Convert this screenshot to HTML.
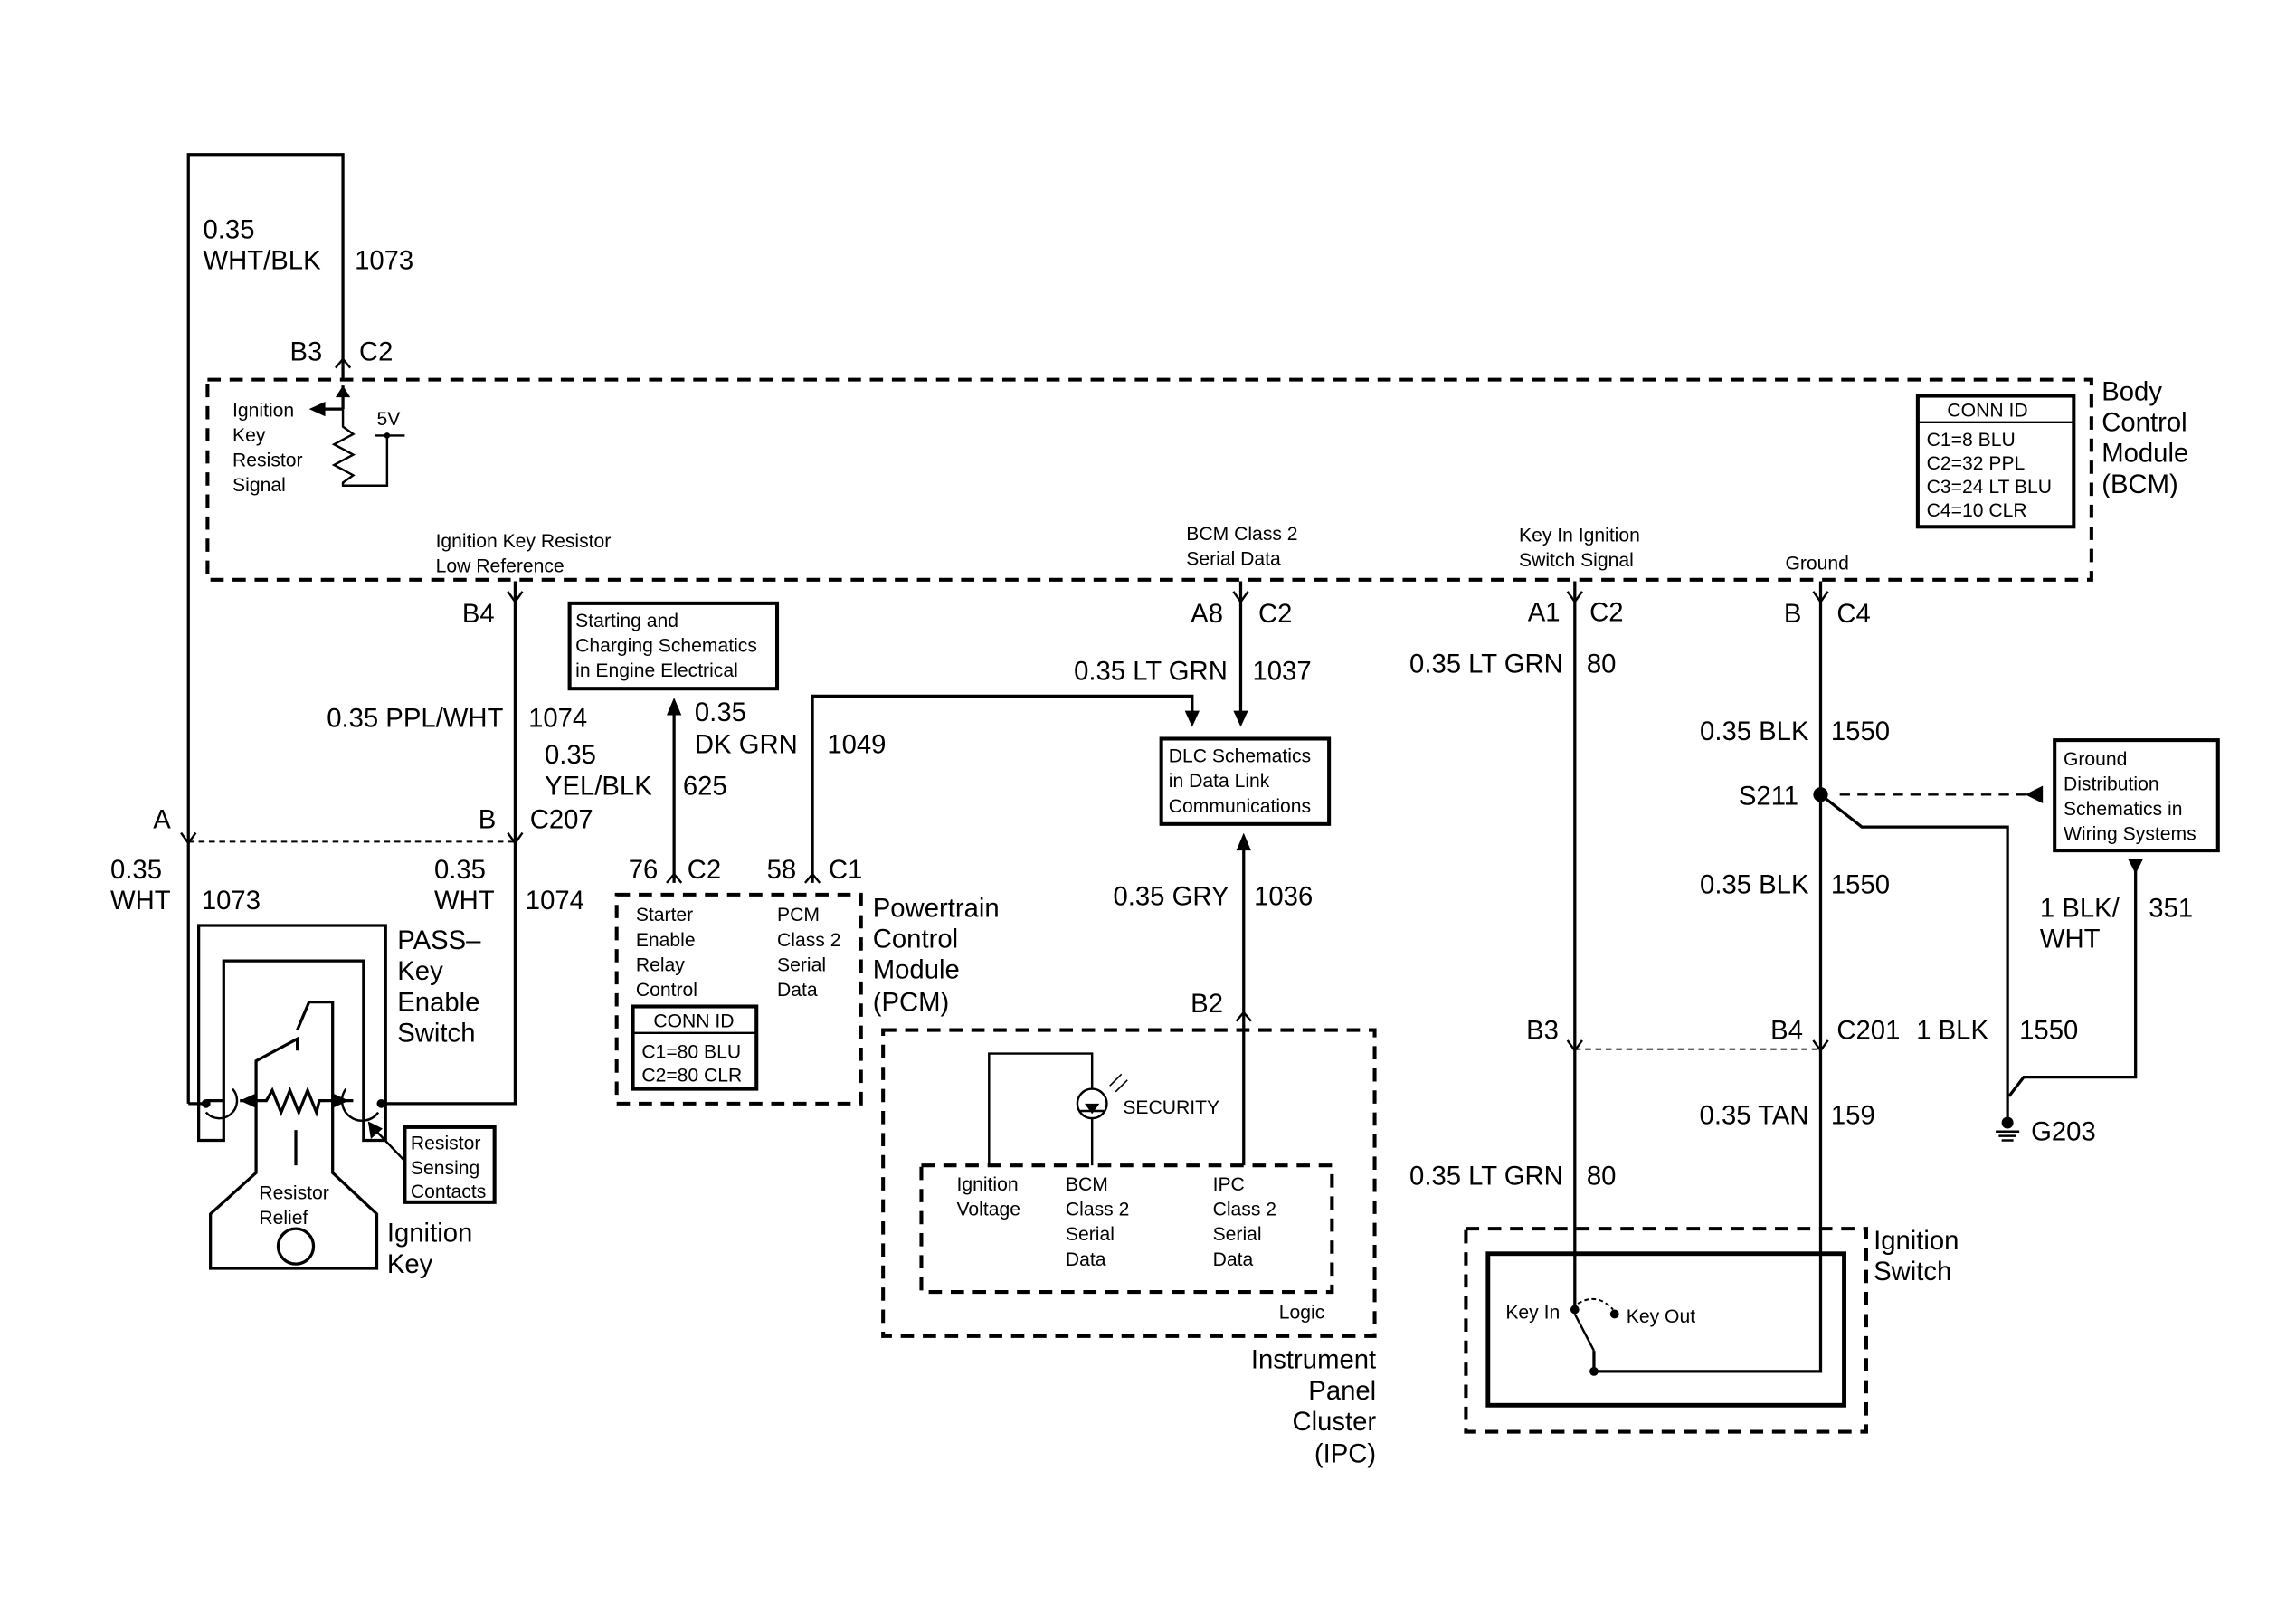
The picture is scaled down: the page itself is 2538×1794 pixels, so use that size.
<!DOCTYPE html>
<html><head><meta charset="utf-8"><style>
html,body{margin:0;padding:0;background:#fff;}
svg{display:block;}
text{font-family:"Liberation Sans",Arial,sans-serif;fill:#000;}
.L{font-size:18px;}
.S{font-size:13px;}
</style></head><body>
<svg width="2538" height="1794" viewBox="0 0 1560 1103" preserveAspectRatio="none" xmlns="http://www.w3.org/2000/svg">
<rect width="1560" height="1103" fill="#fff"/>
<g fill="none" stroke="#000" stroke-width="2">
<rect x="141" y="258" width="1280" height="136" stroke-dasharray="9,6" stroke-width="2.5"/>
<polyline points="128,750 128,105 233,105 233,258"/>
<line x1="233" y1="262" x2="233" y2="278"/>
<line x1="233" y1="278" x2="220" y2="278"/>
<polyline points="233,278 233,290 240,295 227,302 240,309 227,316 240,323 233,328 233,330 263,330 263,296" stroke-width="1.5"/>
<line x1="255" y1="296" x2="275" y2="296" stroke-width="1.5"/>
<polyline points="350,395 350,750 259,750"/>
<line x1="128" y1="750" x2="140" y2="750"/>
<line x1="128" y1="572" x2="350" y2="572" stroke-dasharray="4,3" stroke-width="1.2"/>
<rect x="387" y="410" width="141" height="58" stroke-width="2.5"/>
<line x1="458" y1="485" x2="458" y2="600"/>
<polyline points="552,600 552,473 810,473 810,485"/>
<line x1="843" y1="395" x2="843" y2="485"/>
<rect x="789" y="502" width="114" height="58" stroke-width="2.5"/>
<line x1="845" y1="577" x2="845" y2="792"/>
<rect x="419" y="608" width="166" height="142" stroke-dasharray="9,6" stroke-width="2.5"/>
<rect x="430" y="684" width="84" height="56" stroke-width="2.5"/>
<line x1="430" y1="702" x2="514" y2="702" stroke-width="1.5"/>
<rect x="600" y="700" width="334" height="208" stroke-dasharray="9,6" stroke-width="2.5"/>
<rect x="626" y="792" width="279" height="86" stroke-dasharray="9,6" stroke-width="2.5"/>
<polyline points="672,792 672,716 742,716 742,740" stroke-width="1.5"/>
<line x1="742" y1="760" x2="742" y2="792" stroke-width="1.5"/>
<circle cx="742" cy="750" r="10" stroke-width="1.5"/>
<line x1="734" y1="755" x2="750" y2="755" stroke-width="1.5"/>
<line x1="754" y1="738" x2="762" y2="730" stroke-width="1"/>
<line x1="758" y1="742" x2="766" y2="734" stroke-width="1"/>
<line x1="1070" y1="395" x2="1070" y2="888"/>
<polyline points="1237,395 1237,932 1083,932 1083,918"/>
<line x1="1070" y1="713" x2="1237" y2="713" stroke-dasharray="4,3" stroke-width="1.2"/>
<polyline points="1237,540 1265,562 1364,562 1364,760"/>
<line x1="1250" y1="540" x2="1378" y2="540" stroke-dasharray="7,5" stroke-width="1.5"/>
<rect x="1396" y="503" width="111" height="75" stroke-width="2.5"/>
<polyline points="1451,590 1451,732 1375,732 1365,745"/>
<rect x="996" y="835" width="272" height="138" stroke-dasharray="9,6" stroke-width="2.5"/>
<rect x="1011" y="852" width="242" height="103" stroke-width="3"/>
<line x1="1083" y1="918" x2="1070" y2="893" stroke-width="1.5"/>
<path d="M1072,886 Q1085,878 1096,890" stroke-dasharray="3,2" stroke-width="1.2"/>
<rect x="1303" y="269" width="106" height="89" stroke-width="2.5"/>
<line x1="1303" y1="287" x2="1409" y2="287" stroke-width="1.5"/>
<path d="M152,775 H135 V629 H262 V775 H247 V653 H152 Z"/>
<polyline points="140,748 152,748"/>
<polyline points="163,748 181,748 185,741 191,756 197,741 203,756 209,741 215,756 217,748 240,748"/>
<polyline points="174,748 174,721 202,706 202,714"/>
<polyline points="202,700 210,681 226,681 226,797 256,825 256,862 143,862 143,825 174,797 174,748"/>
<circle cx="201" cy="847" r="12"/>
<line x1="201" y1="792" x2="201" y2="768"/>
<path d="M158,740 A12,12 0 1 1 140,756" stroke-width="1.5"/>
<path d="M235,740 A12,12 0 1 0 257,756" stroke-width="1.5"/>
<rect x="275" y="766" width="61" height="51" stroke-width="2.5"/>
<line x1="275" y1="789" x2="255" y2="768" stroke-width="1.5"/>
</g>
<g fill="#000">
<polygon points="210,278 221,273 221,283"/>
<polygon points="233,262 228,270 238,270"/>
<polygon points="458,474 453,486 463,486"/>
<polygon points="810,494 805,483 815,483"/>
<polygon points="843,494 838,483 848,483"/>
<polygon points="845,566 840,578 850,578"/>
<polygon points="1376,540 1388,534 1388,546"/>
<polygon points="1451,594 1446,584 1456,584"/>
<polygon points="163,748 174,743 174,753"/>
<polygon points="237,748 226,743 226,753"/>
<polygon points="250,762 252,774 260,767"/>
<polygon points="737,750 747,750 742,757"/>
<circle cx="140" cy="750" r="3"/><circle cx="259" cy="750" r="3"/>
<circle cx="1237" cy="540" r="5"/>
<circle cx="1070" cy="890" r="3"/><circle cx="1097" cy="893" r="3"/><circle cx="1083" cy="932" r="3"/>
<circle cx="263" cy="296" r="2"/>
<circle cx="1364" cy="763" r="4"/>
</g>
<g stroke="#000" stroke-width="1.5" fill="none">
<line x1="1356" y1="769" x2="1372" y2="769"/><line x1="1358" y1="772" x2="1370" y2="772"/><line x1="1360" y1="775" x2="1368" y2="775"/>
<path d="M228,250 L233,244 L238,250"/>
<path d="M345,402 L350,409 L355,402"/>
<path d="M838,402 L843,409 L848,402"/>
<path d="M1065,402 L1070,409 L1075,402"/>
<path d="M1232,402 L1237,409 L1242,402"/>
<path d="M123,566 L128,573 L133,566"/><path d="M345,566 L350,573 L355,566"/>
<path d="M453,600 L458,594 L463,600"/><path d="M547,600 L552,594 L557,600"/>
<path d="M840,694 L845,688 L850,694"/>
<path d="M1065,707 L1070,714 L1075,707"/><path d="M1232,707 L1237,714 L1242,707"/>
</g>
<text class="L" x="138" y="162">0.35</text><text class="L" x="138" y="183">WHT/BLK</text><text class="L" x="241" y="183">1073</text>
<text class="L" x="197" y="245">B3</text><text class="L" x="244" y="245">C2</text>
<text class="S" x="158" y="283">Ignition</text><text class="S" x="158" y="300">Key</text><text class="S" x="158" y="317">Resistor</text><text class="S" x="158" y="334">Signal</text>
<text class="S" x="256" y="289">5V</text>
<text class="S" x="1323" y="283">CONN ID</text>
<text class="S" x="1309" y="303">C1=8 BLU</text><text class="S" x="1309" y="319">C2=32 PPL</text><text class="S" x="1309" y="335">C3=24 LT BLU</text><text class="S" x="1309" y="351">C4=10 CLR</text>
<text class="L" x="1428" y="272">Body</text><text class="L" x="1428" y="293">Control</text><text class="L" x="1428" y="314">Module</text><text class="L" x="1428" y="335">(BCM)</text>
<text class="S" x="296" y="372">Ignition Key Resistor</text><text class="S" x="296" y="389">Low Reference</text>
<text class="S" x="806" y="367">BCM Class 2</text><text class="S" x="806" y="384">Serial Data</text>
<text class="S" x="1032" y="368">Key In Ignition</text><text class="S" x="1032" y="385">Switch Signal</text>
<text class="S" x="1213" y="387">Ground</text>
<text class="L" x="314" y="423">B4</text>
<text class="L" x="342" y="494" text-anchor="end">0.35 PPL/WHT</text><text class="L" x="359" y="494">1074</text>
<text class="L" x="104" y="563">A</text><text class="L" x="325" y="563">B</text><text class="L" x="360" y="563">C207</text>
<text class="L" x="75" y="597">0.35</text><text class="L" x="75" y="618">WHT</text><text class="L" x="137" y="618">1073</text>
<text class="L" x="295" y="597">0.35</text><text class="L" x="295" y="618">WHT</text><text class="L" x="357" y="618">1074</text>
<text class="S" x="391" y="426">Starting and</text><text class="S" x="391" y="443">Charging Schematics</text><text class="S" x="391" y="460">in Engine Electrical</text>
<text class="L" x="370" y="519">0.35</text><text class="L" x="370" y="540">YEL/BLK</text><text class="L" x="464" y="540">625</text>
<text class="L" x="472" y="490">0.35</text><text class="L" x="472" y="512">DK GRN</text><text class="L" x="562" y="512">1049</text>
<text class="L" x="809" y="423">A8</text><text class="L" x="855" y="423">C2</text>
<text class="L" x="834" y="462" text-anchor="end">0.35 LT GRN</text><text class="L" x="851" y="462">1037</text>
<text class="S" x="794" y="518">DLC Schematics</text><text class="S" x="794" y="535">in Data Link</text><text class="S" x="794" y="552">Communications</text>
<text class="L" x="835" y="615" text-anchor="end">0.35 GRY</text><text class="L" x="852" y="615">1036</text>
<text class="L" x="809" y="688">B2</text>
<text class="L" x="427" y="597">76</text><text class="L" x="467" y="597">C2</text><text class="L" x="521" y="597">58</text><text class="L" x="563" y="597">C1</text>
<text class="S" x="432" y="626">Starter</text><text class="S" x="432" y="643">Enable</text><text class="S" x="432" y="660">Relay</text><text class="S" x="432" y="677">Control</text>
<text class="S" x="528" y="626">PCM</text><text class="S" x="528" y="643">Class 2</text><text class="S" x="528" y="660">Serial</text><text class="S" x="528" y="677">Data</text>
<text class="S" x="444" y="698">CONN ID</text><text class="S" x="436" y="719">C1=80 BLU</text><text class="S" x="436" y="735">C2=80 CLR</text>
<text class="L" x="593" y="623">Powertrain</text><text class="L" x="593" y="644">Control</text><text class="L" x="593" y="665">Module</text><text class="L" x="593" y="687">(PCM)</text>
<text class="S" x="763" y="757">SECURITY</text>
<text class="S" x="650" y="809">Ignition</text><text class="S" x="650" y="826">Voltage</text>
<text class="S" x="724" y="809">BCM</text><text class="S" x="724" y="826">Class 2</text><text class="S" x="724" y="843">Serial</text><text class="S" x="724" y="860">Data</text>
<text class="S" x="824" y="809">IPC</text><text class="S" x="824" y="826">Class 2</text><text class="S" x="824" y="843">Serial</text><text class="S" x="824" y="860">Data</text>
<text class="S" x="869" y="896">Logic</text>
<text class="L" x="935" y="930" text-anchor="end">Instrument</text><text class="L" x="935" y="951" text-anchor="end">Panel</text><text class="L" x="935" y="972" text-anchor="end">Cluster</text><text class="L" x="935" y="994" text-anchor="end">(IPC)</text>
<text class="L" x="1038" y="422">A1</text><text class="L" x="1080" y="422">C2</text>
<text class="L" x="1062" y="457" text-anchor="end">0.35 LT GRN</text><text class="L" x="1078" y="457">80</text>
<text class="L" x="1212" y="423">B</text><text class="L" x="1248" y="423">C4</text>
<text class="L" x="1229" y="503" text-anchor="end">0.35 BLK</text><text class="L" x="1244" y="503">1550</text>
<text class="L" x="1222" y="547" text-anchor="end">S211</text>
<text class="L" x="1229" y="607" text-anchor="end">0.35 BLK</text><text class="L" x="1244" y="607">1550</text>
<text class="S" x="1402" y="520">Ground</text><text class="S" x="1402" y="537">Distribution</text><text class="S" x="1402" y="554">Schematics in</text><text class="S" x="1402" y="571">Wiring Systems</text>
<text class="L" x="1386" y="623">1 BLK/</text><text class="L" x="1386" y="644">WHT</text><text class="L" x="1460" y="623">351</text>
<text class="L" x="1037" y="706">B3</text><text class="L" x="1203" y="706">B4</text><text class="L" x="1248" y="706">C201</text>
<text class="L" x="1302" y="706">1 BLK</text><text class="L" x="1372" y="706">1550</text>
<text class="L" x="1229" y="764" text-anchor="end">0.35 TAN</text><text class="L" x="1244" y="764">159</text>
<text class="L" x="1380" y="775">G203</text>
<text class="L" x="1062" y="805" text-anchor="end">0.35 LT GRN</text><text class="L" x="1078" y="805">80</text>
<text class="L" x="1273" y="849">Ignition</text><text class="L" x="1273" y="870">Switch</text>
<text class="S" x="1023" y="896">Key In</text><text class="S" x="1105" y="899">Key Out</text>
<text class="L" x="270" y="645">PASS–</text><text class="L" x="270" y="666">Key</text><text class="L" x="270" y="687">Enable</text><text class="L" x="270" y="708">Switch</text>
<text class="S" x="279" y="781">Resistor</text><text class="S" x="279" y="798">Sensing</text><text class="S" x="279" y="814">Contacts</text>
<text class="S" x="176" y="815">Resistor</text><text class="S" x="176" y="832">Relief</text>
<text class="L" x="263" y="844">Ignition</text><text class="L" x="263" y="865">Key</text>
</svg>
</body></html>
